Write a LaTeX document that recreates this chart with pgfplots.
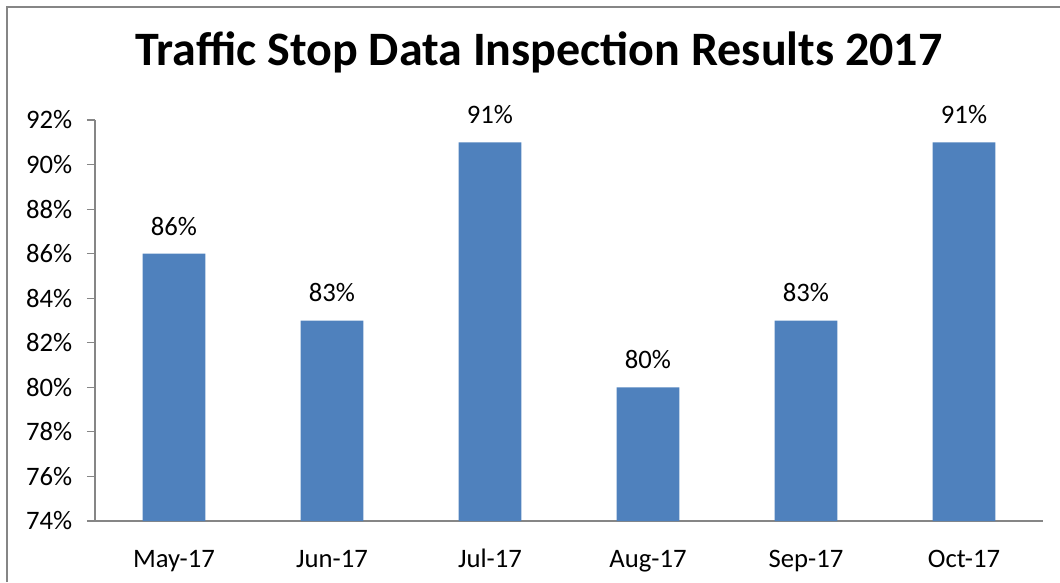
\documentclass[border=0pt]{standalone}
\usepackage{pgfplots}
\pgfplotsset{compat=1.18}
\usepackage{fontspec}
\setmainfont{Carlito}
\definecolor{barblue}{HTML}{4F81BD}
\definecolor{axgray}{HTML}{868686}
\begin{document}
\begin{tikzpicture}
\useasboundingbox (-71.25pt,-45.75pt) rectangle (723.75pt,390.75pt);
\draw[axgray,line width=1.5pt] (-66pt,-45.75pt) -- (-66pt,385.5pt) -- (723.75pt,385.5pt);
\begin{axis}[
  at={(0,0)}, anchor=south west,
  scale only axis, width=711pt, height=300.75pt,
  ymin=74, ymax=92,
  xmin=-0.5, xmax=5.5,
  ytick={74,76,...,92},
  yticklabel={\pgfmathparse{int(\tick)}\pgfmathresult\%},
  xtick=data,
  xticklabels={May-17,Jun-17,Jul-17,Aug-17,Sep-17,Oct-17},
  axis x line*=bottom, axis y line*=left,
  axis line style={axgray, line width=0.9pt, -},
  y axis line style={axgray},
  ytick style={axgray, line width=0.9pt},
  tick align=outside,
  major tick length=6pt,
  x tick style={draw=none},
  ticklabel style={font=\fontsize{20}{22}\selectfont, text=black},
  yticklabel style={xshift=-7.5pt},
  xticklabel style={anchor=base, yshift=-29pt},
  clip=false,
  title={\fontsize{36}{40}\selectfont\bfseries Traffic Stop Data Inspection Results 2017},
  title style={at={(0.5,1)}, anchor=base, yshift=35pt, xshift=-22.5pt},
]
\addplot[ybar, bar width=47pt, fill=barblue, draw=none,
  nodes near coords={\pgfmathprintnumber[fixed,precision=0,assume math mode=true]{\pgfplotspointmeta}\%},
  nodes near coords style={font=\fontsize{20}{22}\selectfont, text=black, anchor=base, yshift=14pt}]
  coordinates {(0,86) (1,83) (2,91) (3,80) (4,83) (5,91)};
\end{axis}
\end{tikzpicture}
\end{document}
